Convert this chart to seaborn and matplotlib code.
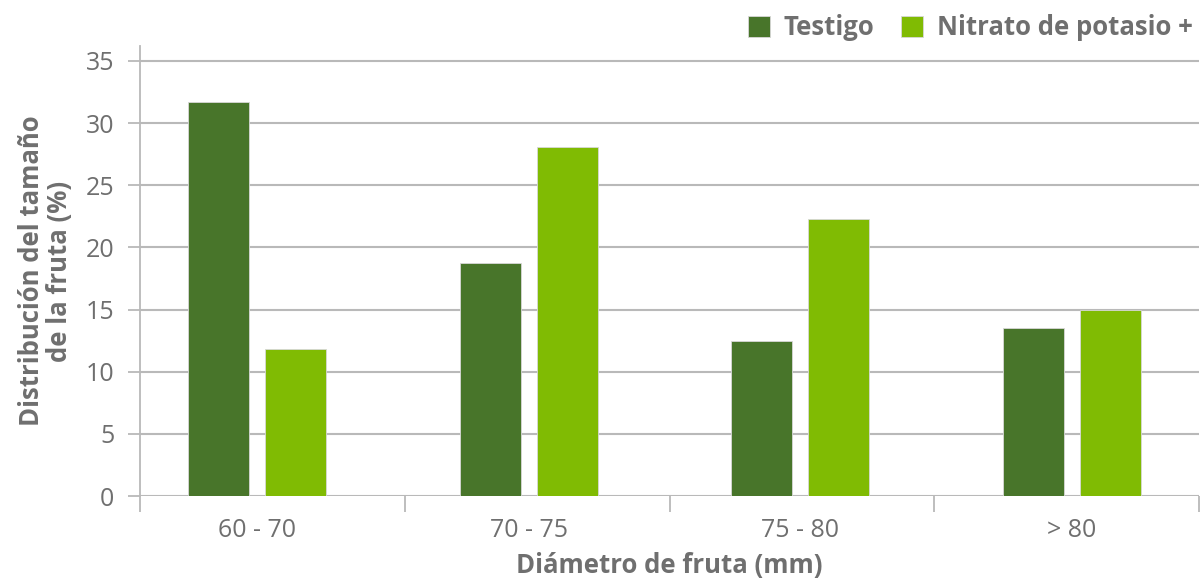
import matplotlib
matplotlib.use("Agg")
import matplotlib.pyplot as plt
import seaborn as sns
import pandas as pd


# -------------------- Data --------------------

categories = ["60 - 70", "70 - 75", "75 - 80", "> 80"]
series_names = ["Testigo", "Nitrato de potasio +"]
testigo = [31.7, 18.75, 12.45, 13.5]
nitrato = [11.85, 28.05, 22.3, 14.95]
y_ticks = [0, 5, 10, 15, 20, 25, 30, 35]

colors = ["#48752a", "#80bb03"]
text_color = "#6f6f6f"
grid_color = "#b9b9b9"

df = pd.DataFrame({
    "categoria": categories * 2,
    "serie": [series_names[0]] * len(categories) + [series_names[1]] * len(categories),
    "valor": testigo + nitrato,
})


# -------------------- Plot --------------------

sns.set_theme(style="white")
plt.rcParams["font.family"] = ["Open Sans", "Noto Sans", "DejaVu Sans"]

fig = plt.figure(figsize=(12.02, 5.83), dpi=100)
ax = fig.add_axes([0.1165, 0.1492, 0.881, 0.772])

sns.barplot(
    data=df,
    x="categoria",
    y="valor",
    hue="serie",
    order=categories,
    hue_order=series_names,
    palette=colors,
    width=0.567,
    gap=0.208,
    saturation=1,
    edgecolor="#d8d8d8",
    linewidth=0.6,
    legend=True,
    ax=ax,
)

# axes limits
x_left, x_right = -0.4307, 3.4675
ax.set_xlim(x_left, x_right)
ax.set_ylim(0, 36.2)

# grid & spines
ax.set_axisbelow(True)
ax.yaxis.grid(True, color=grid_color, linewidth=1.5)
for side in ["top", "right", "bottom"]:
    ax.spines[side].set_visible(False)
ax.spines["left"].set_color(grid_color)
ax.spines["left"].set_linewidth(1.3)

# ticks
ax.set_yticks(y_ticks)
ax.tick_params(axis="y", length=8.6, width=1.3, color=grid_color,
               labelcolor=text_color, labelsize=18, pad=10, left=True)
ax.set_xticks(range(len(categories)))
ax.set_xticklabels(categories)
ax.tick_params(axis="x", which="major", length=0, pad=16,
               labelcolor=text_color, labelsize=18)
step = (x_right - x_left) / 4
ax.set_xticks([x_left + k * step for k in range(5)], minor=True)
ax.tick_params(axis="x", which="minor", length=11.5, width=1.3,
               color=grid_color, bottom=True)

# labels
ax.set_xlabel("Diámetro de fruta (mm)", color=text_color, fontsize=18.5,
              fontweight="bold", labelpad=6)
ax.set_ylabel("Distribución del tamaño\nde la fruta (%)", color=text_color,
              fontsize=18.5, fontweight="bold", labelpad=9, linespacing=1.05)

# legend
handles, labels = ax.get_legend_handles_labels()
ax.get_legend().remove()
fig.legend(
    handles, labels,
    loc="upper right",
    bbox_to_anchor=(1.012, 1.015),
    ncol=2,
    frameon=False,
    handlelength=0.85,
    handleheight=0.85,
    handletextpad=0.55,
    columnspacing=1.05,
    prop={"size": 18.5, "weight": "bold"},
    labelcolor=text_color,
)

fig.savefig("out.png", dpi=100)
